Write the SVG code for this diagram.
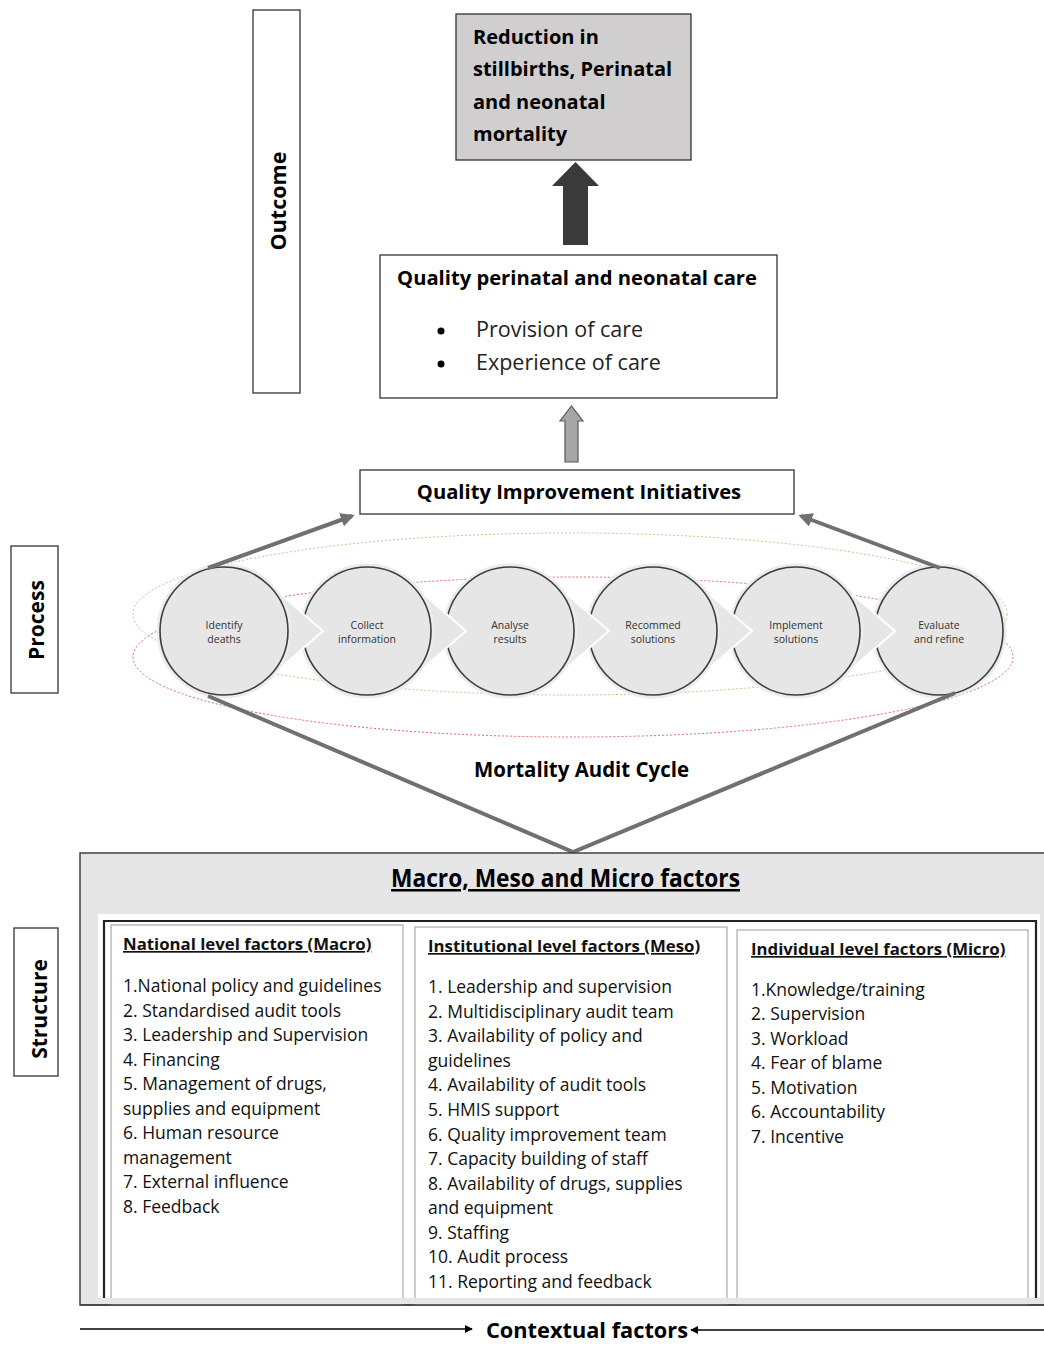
<svg xmlns="http://www.w3.org/2000/svg" width="1044" height="1345" viewBox="0 0 1044 1345">
<defs>
<style>
.lbl{font-family:"Open Sans","Liberation Sans",sans-serif;font-weight:bold;fill:#000}
.box{fill:#fff;stroke:#333;stroke-width:1.3}
.cond{font-family:"Open Sans","Liberation Sans",sans-serif;font-weight:bold;fill:#000}
.item{font-family:"Open Sans","Liberation Sans",sans-serif;font-size:17.5px;fill:#111}
.hdr{font-family:"Open Sans","Liberation Sans",sans-serif;font-size:16.8px;font-weight:bold;text-decoration:underline;fill:#111}
.circ{fill:#e6e6e6;stroke:#3d3d3d;stroke-width:1.6}
.halo{fill:none;stroke:#ececec;stroke-width:5}
.wedge{fill:#e6e6e6;stroke:#fff;stroke-width:2}
.ctext{font-family:"Open Sans","Liberation Sans",sans-serif;font-size:10.5px;fill:#333;text-anchor:middle}
.thick{stroke:#707070;stroke-width:4;fill:none}
.col{fill:#fff;stroke:#999;stroke-width:1}
.reg{font-family:"Open Sans","Liberation Sans",sans-serif;font-size:21.5px;fill:#222}
</style>
<marker id="ah" viewBox="0 0 10 10" refX="8" refY="5" markerWidth="3.5" markerHeight="3.5" orient="auto">
<path d="M0,0 L10,5 L0,10 z" fill="#707070"/>
</marker>
<marker id="ctx" viewBox="0 0 10 10" refX="9" refY="5" markerWidth="8" markerHeight="8" markerUnits="userSpaceOnUse" orient="auto">
<path d="M0,0 L10,5 L0,10 z" fill="#000"/>
</marker>
</defs>

<!-- side labels -->
<g id="label-outcome">
<rect class="box" x="253" y="10" width="47" height="383"/>
<text class="lbl" font-size="21.5" text-anchor="middle" transform="translate(286,201) rotate(-90)">Outcome</text>
</g>
<g id="label-process">
<rect class="box" x="11" y="546" width="47" height="147"/>
<text class="lbl" font-size="21" text-anchor="middle" transform="translate(44,620) rotate(-90)">Process</text>
</g>
<g id="label-structure">
<rect class="box" x="14" y="928" width="44" height="148"/>
<text class="lbl" font-size="21" text-anchor="middle" transform="translate(47,1009) rotate(-90)">Structure</text>
</g>

<!-- outcome box -->
<g id="node-reduction">
<rect x="456" y="14" width="235" height="146" fill="#d0cece" stroke="#333" stroke-width="1.3"/>
<text class="lbl" font-size="20" x="473" y="44">Reduction in</text>
<text class="lbl" font-size="20" x="473" y="76">stillbirths, Perinatal</text>
<text class="lbl" font-size="20" x="473" y="109">and neonatal</text>
<text class="lbl" font-size="20" x="473" y="141">mortality</text>
</g>

<g id="node-quality-care">
<rect class="box" x="380" y="255" width="397" height="143"/>
<text class="lbl" font-size="20.2" x="577" y="285" text-anchor="middle">Quality perinatal and neonatal care</text>
<circle cx="441" cy="331" r="3.5" fill="#000"/>
<circle cx="441" cy="364" r="3.5" fill="#000"/>
<text class="reg" x="476" y="337">Provision of care</text>
<text class="reg" x="476" y="370">Experience of care</text>
</g>

<g id="node-qi">
<rect class="box" x="360" y="470" width="434" height="44"/>
<text class="lbl" font-size="20.2" x="579" y="499" text-anchor="middle">Quality Improvement Initiatives</text>
</g>

<!-- dotted ellipses -->
<g id="cycle-ellipses" fill="none" stroke-dasharray="2,2" stroke-width="1">
<ellipse cx="570" cy="614" rx="437" ry="81" stroke="#a9d18e"/>
<ellipse cx="573" cy="657" rx="440" ry="80" stroke="#e06666"/>
</g>

<!-- audit cycle circles (drawn right to left) -->
<g id="node-evaluate">
<circle class="halo" cx="939" cy="631" r="65"/>
<circle class="circ" cx="939" cy="631" r="64"/>
<text class="ctext" x="939" y="629">Evaluate</text>
<text class="ctext" x="939" y="643">and refine</text>
</g>
<g id="node-implement">
<polygon class="wedge" points="842,585 895,631 842,677"/>
<circle class="halo" cx="796" cy="631" r="65"/>
<circle class="circ" cx="796" cy="631" r="64"/>
<text class="ctext" x="796" y="629">Implement</text>
<text class="ctext" x="796" y="643">solutions</text>
</g>
<g id="node-recommend">
<polygon class="wedge" points="699,585 752,631 699,677"/>
<circle class="halo" cx="653" cy="631" r="65"/>
<circle class="circ" cx="653" cy="631" r="64"/>
<text class="ctext" x="653" y="629">Recommed</text>
<text class="ctext" x="653" y="643">solutions</text>
</g>
<g id="node-analyse">
<polygon class="wedge" points="556,585 609,631 556,677"/>
<circle class="halo" cx="510" cy="631" r="65"/>
<circle class="circ" cx="510" cy="631" r="64"/>
<text class="ctext" x="510" y="629">Analyse</text>
<text class="ctext" x="510" y="643">results</text>
</g>
<g id="node-collect">
<polygon class="wedge" points="413,585 466,631 413,677"/>
<circle class="halo" cx="367" cy="631" r="65"/>
<circle class="circ" cx="367" cy="631" r="64"/>
<text class="ctext" x="367" y="629">Collect</text>
<text class="ctext" x="367" y="643">information</text>
</g>
<g id="node-identify">
<polygon class="wedge" points="270,585 323,631 270,677"/>
<circle class="halo" cx="224" cy="631" r="65"/>
<circle class="circ" cx="224" cy="631" r="64"/>
<text class="ctext" x="224" y="629">Identify</text>
<text class="ctext" x="224" y="643">deaths</text>
</g>

<g id="label-mac">
<text class="cond" font-size="21" x="474" y="777" textLength="215" lengthAdjust="spacingAndGlyphs">Mortality Audit Cycle</text>
</g>

<!-- connectors -->
<g id="connectors">
<path d="M563,245 L563,186 L552,186 L575.5,162 L599,186 L588,186 L588,245 Z" fill="#3a3a3a"/>
<path d="M565,462 L565,421 L560,421 L571.5,406 L583,421 L578,421 L578,462 Z" fill="#a6a6a6" stroke="#595959" stroke-width="1.2"/>
<line class="thick" x1="208" y1="568" x2="352" y2="516" marker-end="url(#ah)"/>
<line class="thick" x1="940" y1="568" x2="801" y2="516" marker-end="url(#ah)"/>
<polyline class="thick" points="208,696 573,852 955,693"/>
<line x1="80" y1="1329" x2="472" y2="1329" stroke="#000" stroke-width="1.6" marker-end="url(#ctx)"/>
<line x1="1044" y1="1330" x2="691" y2="1330" stroke="#000" stroke-width="1.6" marker-end="url(#ctx)"/>
</g>

<!-- structure -->
<g id="node-structure">
<rect x="80" y="853" width="970" height="452" fill="#e7e6e6" stroke="#404040" stroke-width="1.5"/>
<text class="cond" font-size="25" x="391" y="887" textLength="349" lengthAdjust="spacingAndGlyphs" text-decoration="underline">Macro, Meso and Micro factors</text>
<rect x="98" y="914" width="942" height="384" fill="#fff"/>
<path d="M104,1298 L104,921 L1036,921 L1036,1298" fill="none" stroke="#222" stroke-width="2.2"/>
</g>

<g id="node-macro">
<rect class="col" x="111" y="925" width="292" height="380"/>
<text class="hdr" x="123" y="950">National level factors (Macro)</text>
<text class="item" x="123" y="992">1.National policy and guidelines</text>
<text class="item" x="123" y="1017">2. Standardised audit tools</text>
<text class="item" x="123" y="1041">3. Leadership and Supervision</text>
<text class="item" x="123" y="1066">4. Financing</text>
<text class="item" x="123" y="1090">5. Management of drugs,</text>
<text class="item" x="123" y="1115">supplies and equipment</text>
<text class="item" x="123" y="1139">6. Human resource</text>
<text class="item" x="123" y="1164">management</text>
<text class="item" x="123" y="1188">7. External influence</text>
<text class="item" x="123" y="1213">8. Feedback</text>
</g>

<g id="node-meso">
<rect class="col" x="415" y="927" width="312" height="378"/>
<text class="hdr" x="428" y="952">Institutional level factors (Meso)</text>
<text class="item" x="428" y="993">1. Leadership and supervision</text>
<text class="item" x="428" y="1018">2. Multidisciplinary audit team</text>
<text class="item" x="428" y="1042">3. Availability of policy and</text>
<text class="item" x="428" y="1067">guidelines</text>
<text class="item" x="428" y="1091">4. Availability of audit tools</text>
<text class="item" x="428" y="1116">5. HMIS support</text>
<text class="item" x="428" y="1141">6. Quality improvement team</text>
<text class="item" x="428" y="1165">7. Capacity building of staff</text>
<text class="item" x="428" y="1190">8. Availability of drugs, supplies</text>
<text class="item" x="428" y="1214">and equipment</text>
<text class="item" x="428" y="1239">9. Staffing</text>
<text class="item" x="428" y="1263">10. Audit process</text>
<text class="item" x="428" y="1288">11. Reporting and feedback</text>
</g>

<g id="node-micro">
<rect class="col" x="737" y="930" width="291" height="375"/>
<text class="hdr" x="751" y="955">Individual level factors (Micro)</text>
<text class="item" x="751" y="996">1.Knowledge/training</text>
<text class="item" x="751" y="1020">2. Supervision</text>
<text class="item" x="751" y="1045">3. Workload</text>
<text class="item" x="751" y="1069">4. Fear of blame</text>
<text class="item" x="751" y="1094">5. Motivation</text>
<text class="item" x="751" y="1118">6. Accountability</text>
<text class="item" x="751" y="1143">7. Incentive</text>
</g>

<rect x="98" y="1298" width="946" height="6" fill="#e7e6e6"/>
<line x1="80" y1="1305" x2="1044" y2="1305" stroke="#404040" stroke-width="1.5"/>

<g id="label-context">
<text class="cond" font-size="21" x="486" y="1338" textLength="202" lengthAdjust="spacingAndGlyphs">Contextual factors</text>
</g>
</svg>
